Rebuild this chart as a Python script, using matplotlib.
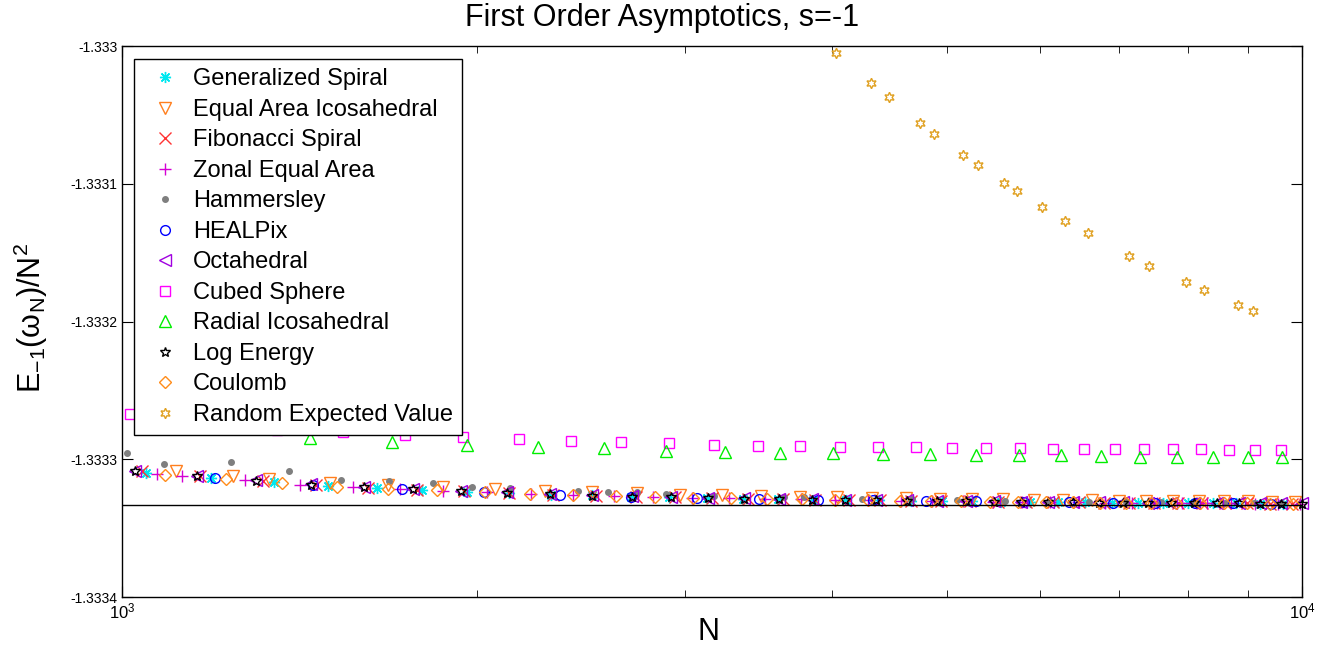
import matplotlib.pyplot as plt
from matplotlib.ticker import NullFormatter

# Шрифт в стиле MATLAB (Helvetica -> Liberation Sans)
plt.rcParams['font.family'] = ['Liberation Sans', 'DejaVu Sans']
plt.rcParams['mathtext.default'] = 'regular'

# Асимптотическое значение -4/3
limit_value = -4 / 3

gen_spiral_N = [1048, 1190, 1345, 1495, 1644, 1794, 1960, 2130, 2310, 2500, 2700, 2910, 3130, 3360, 3600,
                3850, 4110, 4380, 4660, 4950, 5250, 5560, 5880, 6210, 6550, 6900, 7260, 7630, 8010, 8400,
                8800, 9210, 9630]
gen_spiral_E = [-1.3333098, -1.3333136, -1.3333167, -1.3333195, -1.3333210, -1.3333222, -1.3333235,
                -1.3333246, -1.3333256, -1.3333263, -1.3333271, -1.3333276, -1.3333281, -1.3333285,
                -1.3333289, -1.3333293, -1.3333296, -1.3333299, -1.3333301, -1.3333304, -1.3333306,
                -1.3333308, -1.3333310, -1.3333311, -1.3333313, -1.3333315, -1.3333316, -1.3333317,
                -1.3333318, -1.3333320, -1.3333321, -1.3333322, -1.3333323]

eq_ico_N = [1112, 1242, 1332, 1502, 1682, 1872, 2072, 2282, 2502, 2732, 2972, 3222, 3482, 3752, 4032,
            4322, 4622, 4932, 5252, 5582, 5922, 6272, 6632, 7002, 7382, 7772, 8172, 8582, 9002, 9432, 9872]
eq_ico_E = [-1.3333085, -1.3333122, -1.3333141, -1.3333172, -1.3333190, -1.3333203, -1.3333214,
            -1.3333228, -1.3333238, -1.3333248, -1.3333256, -1.3333263, -1.3333268, -1.3333273,
            -1.3333277, -1.3333281, -1.3333284, -1.3333287, -1.3333290, -1.3333292, -1.3333294,
            -1.3333296, -1.3333298, -1.3333300, -1.3333301, -1.3333302, -1.3333304, -1.3333305,
            -1.3333306, -1.3333307, -1.3333308]

fib_N = [1039, 1164, 1317, 1460, 1615, 1780, 1950, 2130, 2320, 2520, 2725, 2940, 3160, 3390, 3630, 3870,
         4130, 4390, 4660, 4940, 5230, 5530, 5840, 6150, 6470, 6800, 7140, 7490, 7850, 8220, 8600, 8990,
         9390, 9800]
fib_E = [-1.3333085, -1.3333122, -1.3333156, -1.3333190, -1.3333207, -1.3333221, -1.3333233, -1.3333246,
         -1.3333256, -1.3333264, -1.3333271, -1.3333277, -1.3333281, -1.3333286, -1.3333290, -1.3333293,
         -1.3333296, -1.3333299, -1.3333301, -1.3333304, -1.3333306, -1.3333307, -1.3333309, -1.3333311,
         -1.3333313, -1.3333314, -1.3333316, -1.3333317, -1.3333318, -1.3333319, -1.3333320, -1.3333321,
         -1.3333322, -1.3333323]

zonal_N = [1070, 1124, 1271, 1415, 1569, 1720, 1870, 2040, 2220, 2410, 2610, 2820, 3040, 3270, 3510, 3760,
           4020, 4290, 4570, 4860, 5160, 5470, 5790, 6120, 6460, 6810, 7170, 7540, 7920, 8310, 8710, 9120,
           9540, 9970]
zonal_E = [-1.3333107, -1.3333122, -1.3333151, -1.3333189, -1.3333203, -1.3333216, -1.3333227, -1.3333240,
           -1.3333251, -1.3333260, -1.3333267, -1.3333274, -1.3333279, -1.3333284, -1.3333288, -1.3333291,
           -1.3333295, -1.3333298, -1.3333300, -1.3333303, -1.3333305, -1.3333307, -1.3333309, -1.3333311,
           -1.3333313, -1.3333314, -1.3333316, -1.3333317, -1.3333318, -1.3333319, -1.3333320, -1.3333322,
           -1.3333323, -1.3333323]

hammersley_N = [1009, 1085, 1236, 1385, 1532, 1683, 1833, 1981, 2131, 2433, 2580, 2732, 2890, 3172, 3638,
                3782, 4234, 4671, 5100, 5600, 6100, 6600, 7100, 7600, 8100, 8600, 9100, 9600]
hammersley_E = [-1.3332957, -1.3333037, -1.3333022, -1.3333085, -1.3333151, -1.3333156, -1.3333175,
                -1.3333204, -1.3333207, -1.3333228, -1.3333236, -1.3333236, -1.3333252, -1.3333265,
                -1.3333276, -1.3333276, -1.3333289, -1.3333289, -1.3333296, -1.3333300, -1.3333304,
                -1.3333307, -1.3333310, -1.3333313, -1.3333315, -1.3333318, -1.3333319, -1.3333320]

healpix_N = [1200, 1452, 1728, 2028, 2352, 2700, 3072, 3468, 3888, 4332, 4800, 5292, 5808, 6348, 6912,
             7500, 8112, 8748, 9408]
healpix_E = [-1.3333138, -1.3333188, -1.3333218, -1.3333240, -1.3333258, -1.3333271, -1.3333280,
             -1.3333289, -1.3333294, -1.3333299, -1.3333302, -1.3333306, -1.3333310, -1.3333313,
             -1.3333315, -1.3333317, -1.3333319, -1.3333321, -1.3333323]

octa_N = [1026, 1158, 1298, 1446, 1602, 1766, 1938, 2118, 2306, 2502, 2706, 2918, 3138, 3366, 3602, 3846,
          4098, 4358, 4626, 4902, 5186, 5478, 5778, 6086, 6402, 6726, 7058, 7398, 7746, 8102, 8466, 8838,
          9218, 9606, 10002]
octa_E = [-1.3333082, -1.3333118, -1.3333152, -1.3333183, -1.3333201, -1.3333213, -1.3333228, -1.3333241,
          -1.3333251, -1.3333261, -1.3333268, -1.3333274, -1.3333279, -1.3333283, -1.3333287, -1.3333291,
          -1.3333294, -1.3333297, -1.3333299, -1.3333301, -1.3333303, -1.3333305, -1.3333308, -1.3333309,
          -1.3333311, -1.3333312, -1.3333313, -1.3333315, -1.3333316, -1.3333317, -1.3333318, -1.3333319,
          -1.3333320, -1.3333321, -1.3333321]

cubed_N = [1016, 1178, 1352, 1538, 1736, 1946, 2168, 2402, 2648, 2906, 3176, 3458, 3752, 4058, 4376, 4706,
           5048, 5402, 5768, 6146, 6536, 6938, 7352, 7778, 8216, 8666, 9128, 9602]
cubed_E = [-1.3332672, -1.3332751, -1.3332788, -1.3332802, -1.3332824, -1.3332839, -1.3332853, -1.3332870,
           -1.3332877, -1.3332884, -1.3332894, -1.3332902, -1.3332902, -1.3332909, -1.3332909, -1.3332909,
           -1.3332918, -1.3332918, -1.3332916, -1.3332926, -1.3332926, -1.3332926, -1.3332926, -1.3332926,
           -1.3332926, -1.3332933, -1.3332933, -1.3332933]

radial_N = [1442, 1692, 1962, 2252, 2562, 2892, 3242, 3612, 4002, 4412, 4842, 5292, 5762, 6252, 6762,
            7292, 7842, 8412, 9002, 9612]
radial_E = [-1.3332844, -1.3332873, -1.3332897, -1.3332913, -1.3332921, -1.3332938, -1.3332945,
            -1.3332953, -1.3332953, -1.3332962, -1.3332962, -1.3332969, -1.3332971, -1.3332971,
            -1.3332979, -1.3332982, -1.3332982, -1.3332982, -1.3332982, -1.3332982]

log_energy_N = octa_N
log_energy_E = [-1.3333085, -1.3333122, -1.3333156, -1.3333187, -1.3333205, -1.3333217, -1.3333232,
                -1.3333245, -1.3333254, -1.3333264, -1.3333271, -1.3333277, -1.3333281, -1.3333286,
                -1.3333289, -1.3333293, -1.3333296, -1.3333299, -1.3333301, -1.3333303, -1.3333305,
                -1.3333307, -1.3333310, -1.3333311, -1.3333313, -1.3333314, -1.3333315, -1.3333317,
                -1.3333318, -1.3333319, -1.3333320, -1.3333321, -1.3333322, -1.3333323, -1.3333323]

coulomb_N = [1087, 1225, 1366, 1520, 1680, 1850, 2030, 2215, 2410, 2620, 2830, 3050, 3280, 3520, 3770,
             4020, 4290, 4560, 4850, 5140, 5440, 5750, 6070, 6400, 6740, 7090, 7450, 7820, 8200, 8590,
             8990, 9400, 9820]
coulomb_E = [-1.3333114, -1.3333146, -1.3333175, -1.3333198, -1.3333213, -1.3333226, -1.3333240,
             -1.3333251, -1.3333260, -1.3333268, -1.3333274, -1.3333279, -1.3333284, -1.3333288,
             -1.3333292, -1.3333295, -1.3333298, -1.3333300, -1.3333303, -1.3333305, -1.3333307,
             -1.3333309, -1.3333310, -1.3333312, -1.3333314, -1.3333315, -1.3333317, -1.3333318,
             -1.3333319, -1.3333320, -1.3333321, -1.3333322, -1.3333323]

random_N = [4028, 4315, 4464, 4746, 4880, 5164, 5311, 5594, 5731, 6022, 6298, 6582, 7139, 7416, 7973,
            8264, 8826, 9093]
random_E = [-1.3330049, -1.3330271, -1.3330368, -1.3330557, -1.3330639, -1.3330791, -1.3330864,
            -1.3330992, -1.3331053, -1.3331167, -1.3331270, -1.3331360, -1.3331522, -1.3331595,
            -1.3331715, -1.3331771, -1.3331880, -1.3331922]

# (название, N, E, маркер, цвет, размер)
series = [
    ("Generalized Spiral", gen_spiral_N, gen_spiral_E, (8, 2, 0), '#00e8f0', 8),
    ("Equal Area Icosahedral", eq_ico_N, eq_ico_E, 'v', '#ff7f1e', 8),
    ("Fibonacci Spiral", fib_N, fib_E, 'x', '#ff3333', 8),
    ("Zonal Equal Area", zonal_N, zonal_E, '+', '#d400d4', 9),
    ("Hammersley", hammersley_N, hammersley_E, '.', '#7f7f7f', 8),
    ("HEALPix", healpix_N, healpix_E, 'o', '#0000ff', 7),
    ("Octahedral", octa_N, octa_E, '<', '#a000e0', 8),
    ("Cubed Sphere", cubed_N, cubed_E, 's', '#ff00ff', 7),
    ("Radial Icosahedral", radial_N, radial_E, '^', '#00ee00', 8),
    ("Log Energy", log_energy_N, log_energy_E, '*', '#000000', 7.5),
    ("Coulomb", coulomb_N, coulomb_E, 'D', '#ff8c1a', 6.5),
    ("Random Expected Value", random_N, random_E, (6, 1, 0), '#e0a020', 7.5),
]

fig = plt.figure(figsize=(13.25, 6.48), dpi=100)
ax = fig.add_axes([122 / 1325, 51 / 648, 1180 / 1325, 551 / 648])

for name, n_vals, e_vals, marker, color, size in series:
    face = color if marker == '.' else 'none'
    ax.plot(n_vals, e_vals, linestyle='none', marker=marker, markersize=size,
            markerfacecolor=face, markeredgecolor=color, markeredgewidth=1.0,
            label=name, clip_on=False)

ax.axhline(limit_value, color='black', linewidth=1.0)

# Оси
ax.set_xscale('log')
ax.set_xlim(1000, 10000)
ax.set_ylim(-1.3334, -1.333)
ax.set_yticks([-1.3334, -1.3333, -1.3332, -1.3331, -1.333],
              labels=['-1.3334', '-1.3333', '-1.3332', '-1.3331', '-1.333'])
ax.xaxis.set_minor_formatter(NullFormatter())
ax.tick_params(which='both', direction='in', top=True, right=True, colors='black')
ax.tick_params(axis='y', labelsize=10)
ax.tick_params(axis='x', labelsize=12, pad=3)
ax.tick_params(which='major', length=8)
ax.tick_params(which='minor', length=5)
for sp in ax.spines.values():
    sp.set_linewidth(1.0)

# Подписи
fig.text(662 / 1325, 1 - 18 / 648, "First Order Asymptotics, s=-1", fontsize=22,
         ha='center', va='center')
fig.text(708 / 1325, 1 - 632 / 648, "N", fontsize=22, ha='center', va='center')
fig.text(31 / 1325, 1 - 318 / 648, "E$_{-1}$(\u03c9$_{N}$)/N$^{2}$", fontsize=22,
         rotation=90, ha='center', va='center')

# Легенда
leg = ax.legend(loc='upper left', bbox_to_anchor=(134 / 1325, 1 - 59 / 648),
                bbox_transform=fig.transFigure, borderaxespad=0, fontsize=17,
                numpoints=1, handlelength=1.8, handletextpad=0.3, borderpad=0.4,
                labelspacing=0.36, fancybox=False, framealpha=1, edgecolor='black')
leg.get_frame().set_linewidth(1.0)
leg.set_zorder(10)

fig.savefig("out.png", dpi=100)
